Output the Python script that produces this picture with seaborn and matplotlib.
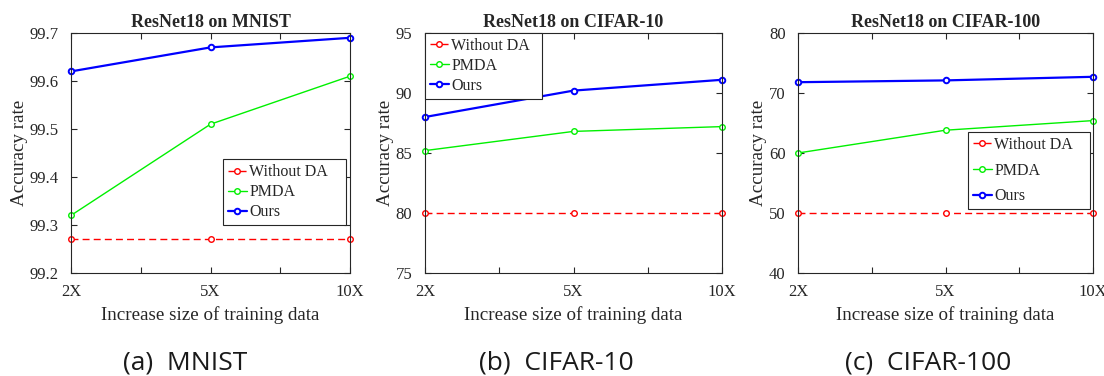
import numpy as np
import pandas as pd
import matplotlib
matplotlib.use("Agg")
import matplotlib.pyplot as plt
import seaborn as sns

# Data
x_labels = ["2X", "5X", "10X"]
methods = ["Without DA", "PMDA", "Ours"]

mnist_without = [99.27, 99.27, 99.27]
mnist_pmda = [99.32, 99.51, 99.61]
mnist_ours = [99.62, 99.67, 99.69]

cifar10_without = [80.0, 80.0, 80.0]
cifar10_pmda = [85.2, 86.8, 87.2]
cifar10_ours = [88.0, 90.2, 91.1]

cifar100_without = [50.0, 50.0, 50.0]
cifar100_pmda = [60.0, 63.8, 65.4]
cifar100_ours = [71.8, 72.1, 72.7]

titles = ["ResNet18 on MNIST", "ResNet18 on CIFAR-10", "ResNet18 on CIFAR-100"]
captions = ["(a)  MNIST", "(b)  CIFAR-10", "(c)  CIFAR-100"]
ylims = [(99.2, 99.7), (75, 95), (40, 80)]
yticks = [[99.2, 99.3, 99.4, 99.5, 99.6, 99.7], [75, 80, 85, 90, 95], [40, 50, 60, 70, 80]]
ytick_labels = [["99.2", "99.3", "99.4", "99.5", "99.6", "99.7"],
                ["75", "80", "85", "90", "95"],
                ["40", "50", "60", "70", "80"]]

panels = [
    (mnist_without, mnist_pmda, mnist_ours),
    (cifar10_without, cifar10_pmda, cifar10_ours),
    (cifar100_without, cifar100_pmda, cifar100_ours),
]

sns.set_style("ticks")
plt.rcParams["font.family"] = ["Liberation Serif", "DejaVu Serif"]
plt.rcParams["xtick.direction"] = "in"
plt.rcParams["ytick.direction"] = "in"
plt.rcParams["axes.edgecolor"] = "#262626"
plt.rcParams["text.color"] = "#262626"
plt.rcParams["xtick.color"] = "#262626"
plt.rcParams["ytick.color"] = "#262626"

colors = {"Without DA": "#ff0000", "PMDA": "#00f000", "Ours": "#0000ff"}
widths = {"Without DA": 1.0, "PMDA": 1.0, "Ours": 1.6}
edge_w = {"Without DA": 1.0, "PMDA": 1.0, "Ours": 1.4}
styles = {"Without DA": (0, (5, 3)), "PMDA": "-", "Ours": "-"}

fig = plt.figure(figsize=(11.04, 3.76), dpi=100)
W, H = 1104, 376
boxes = [(71, 350), (425, 722), (798, 1093)]
caption_x = [185, 556, 928]
top_px, bot_px = 33, 273
legend_loc = [
    dict(loc="lower left", bbox_to_anchor=(0.545, 0.2, 0.441, 0.27), labelspacing=0.25),
    dict(loc="upper left", bbox_to_anchor=(0.0, 0.744, 0.394, 0.256), labelspacing=0.25),
    dict(loc="lower left", bbox_to_anchor=(0.576, 0.267, 0.414, 0.317), labelspacing=0.6),
]

for i, (series, (l, r)) in enumerate(zip(panels, boxes)):
    ax = fig.add_axes([l / W, (H - bot_px) / H, (r - l) / W, (bot_px - top_px) / H])
    df = pd.DataFrame({
        "x": np.tile(np.arange(3), 3),
        "acc": np.concatenate(series),
        "method": np.repeat(methods, 3),
    })
    for m in methods:
        sub = df[df["method"] == m]
        sns.lineplot(data=sub, x="x", y="acc", ax=ax, color=colors[m],
                     linewidth=widths[m], linestyle=styles[m], marker="o",
                     markersize=4, markerfacecolor="white",
                     markeredgecolor=colors[m], markeredgewidth=edge_w[m],
                     label=m, clip_on=False)
    ax.set_xlim(0, 2)
    ax.set_ylim(*ylims[i])
    ax.set_xticks([0, 1, 2])
    ax.set_xticklabels(x_labels)
    ax.set_xticks([0.5, 1.5], minor=True)
    ax.set_yticks(yticks[i])
    ax.set_yticklabels(ytick_labels[i])
    ax.tick_params(which="both", top=True, right=True, labelsize=12,
                   length=4, width=0.8)
    ax.tick_params(axis="x", pad=8)
    ax.tick_params(axis="y", pad=9)
    for s in ax.spines.values():
        s.set_linewidth(0.8)
    ax.set_xlabel("Increase size of training data", fontsize=13.7, labelpad=4)
    ax.set_ylabel("Accuracy rate", fontsize=13.7, labelpad=1)
    ax.set_title(titles[i], fontsize=13, fontweight="bold", pad=4)
    leg = ax.legend(fontsize=11.5, frameon=True, fancybox=False,
                    edgecolor="#262626", framealpha=1, handlelength=1.2,
                    handletextpad=0.15, borderpad=0.3, mode="expand",
                    borderaxespad=0.0, **legend_loc[i])
    leg.get_frame().set_linewidth(0.8)
    fig.text(caption_x[i] / W, 1 - 363 / H, captions[i], ha="center", va="center",
             fontsize=19, family=["Open Sans", "DejaVu Sans"], color="#1a1a1a")

fig.savefig("out.png", dpi=100)
